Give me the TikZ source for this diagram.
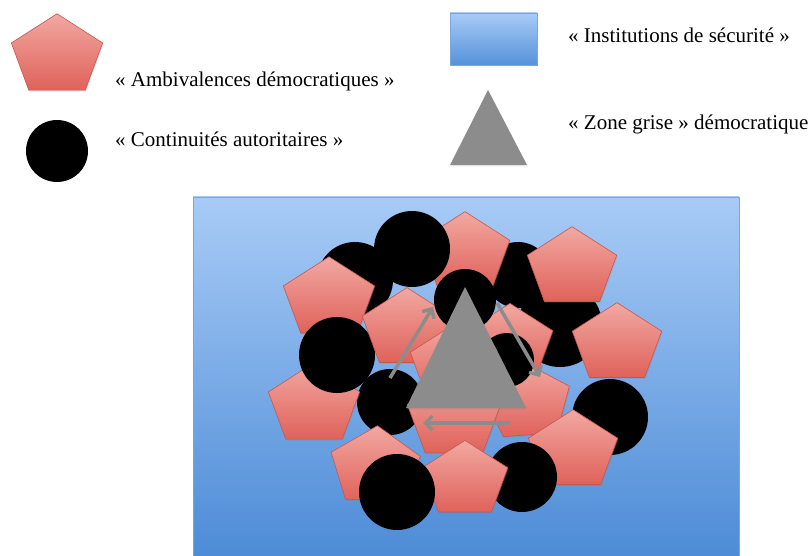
\documentclass[tikz,border=0pt]{standalone}
\usepackage{fontspec}
\setmainfont{Liberation Serif}
\usetikzlibrary{arrows.meta,shadows}
\definecolor{pinktop}{HTML}{F2A8A2}
\definecolor{pinkbot}{HTML}{DF625A}
\definecolor{pinkedge}{HTML}{C9554E}
\definecolor{bluetop}{HTML}{A8CBF6}
\definecolor{bluebot}{HTML}{5592DA}
\definecolor{bigbot}{HTML}{4C8BD6}
\definecolor{blueedge}{HTML}{7AA6DC}
\definecolor{greyshape}{HTML}{8C8C8C}
\tikzset{
 pentstyle/.style={top color=pinktop,bottom color=pinkbot,draw=pinkedge,line width=0.6pt,
   drop shadow={opacity=0.22,shadow xshift=0.8pt,shadow yshift=-1.5pt}},
 blackdot/.style={fill=black},
 bluebox/.style={top color=bluetop,bottom color=bluebot,draw=blueedge,line width=0.8pt,
   drop shadow={opacity=0.25,shadow xshift=0.8pt,shadow yshift=-1.5pt}},
 bigbox/.style={top color=bluetop,bottom color=bigbot,draw=blueedge,line width=0.8pt},
 greytri/.style={fill=greyshape,drop shadow={opacity=0.22,shadow xshift=0.8pt,shadow yshift=-1.5pt}},
 cyclearrow/.style={draw=greyshape,line width=3.5pt,-{Straight Barb[length=7pt,width=14pt]}},
 legendtext/.style={anchor=base west,inner sep=0pt,font=\fontsize{21}{25}\selectfont}
}
\newcommand\pent[4]{%
 \pgfmathsetmacro\pentry{#3*0.88}%
 \path[pentstyle, shift={(#1,#2)}] (-90+#4:#3 and \pentry) -- (-18+#4:#3 and \pentry) --
   (54+#4:#3 and \pentry) -- (126+#4:#3 and \pentry) -- (198+#4:#3 and \pentry) -- cycle;}
\newcommand\blackdisc[3]{\fill[blackdot] (#1,#2) circle[radius=#3pt];}
\begin{document}
\begin{tikzpicture}[x=1pt,y=-1pt]
\useasboundingbox (0,0) rectangle (812,556);
% legend
\pent{57}{56}{48}{0}
\blackdisc{57}{151}{31}
\path[bluebox] (450,13) rectangle (537,65);
\path[greytri] (488,90) -- (450,165) -- (527,165) -- cycle;
\node[legendtext] (ambiv) at (115,87) {« Ambivalences démocratiques »};
\node[legendtext] (contin) at (115,147) {« Continuités autoritaires »};
\node[legendtext] (instit) at (568,43) {« Institutions de sécurité »};
\node[legendtext] (zone) at (568,130) {« Zone grise » démocratique};
% big box
\path[bigbox] (193,197) rectangle (739,560);
% cluster, back to front
\blackdisc{355}{280}{38}
\blackdisc{518}{275}{33}
\blackdisc{560}{325}{42}
\pent{329}{299}{48}{0}
\pent{465}{253}{47}{0}
\blackdisc{412}{249}{38}
\pent{572}{268}{47}{0}
\pent{617}{344}{47}{0}
\blackdisc{390}{402}{33}
\pent{314}{405}{48}{0}
\blackdisc{337}{355}{38}
\pent{407}{329}{47}{0}
\pent{455}{365}{47}{0}
\pent{510}{343}{45}{0}
\pent{527}{402}{46}{-5}
\blackdisc{507}{360}{27}
\pent{454}{418}{49}{0}
\pent{375}{467}{47}{3}
\blackdisc{610}{417}{38}
\pent{573}{451}{47}{0}
\blackdisc{522}{477}{35}
\pent{465}{480}{45}{0}
\blackdisc{397}{492}{38}
\blackdisc{465}{300}{31}
% central triangle
\path[greytri] (465,287) -- (406,408) -- (526,408) -- cycle;
% cycle arrows
\coordinate (la1) at (390,378); \coordinate (la2) at (433,307);
\coordinate (ra1) at (497,303); \coordinate (ra2) at (540,377);
\coordinate (ba1) at (510,423); \coordinate (ba2) at (423,423);
\draw[cyclearrow] (la1) -- (la2);
\draw[cyclearrow] (ra1) -- (ra2);
\draw[cyclearrow] (ba1) -- (ba2);
\end{tikzpicture}
\end{document}
